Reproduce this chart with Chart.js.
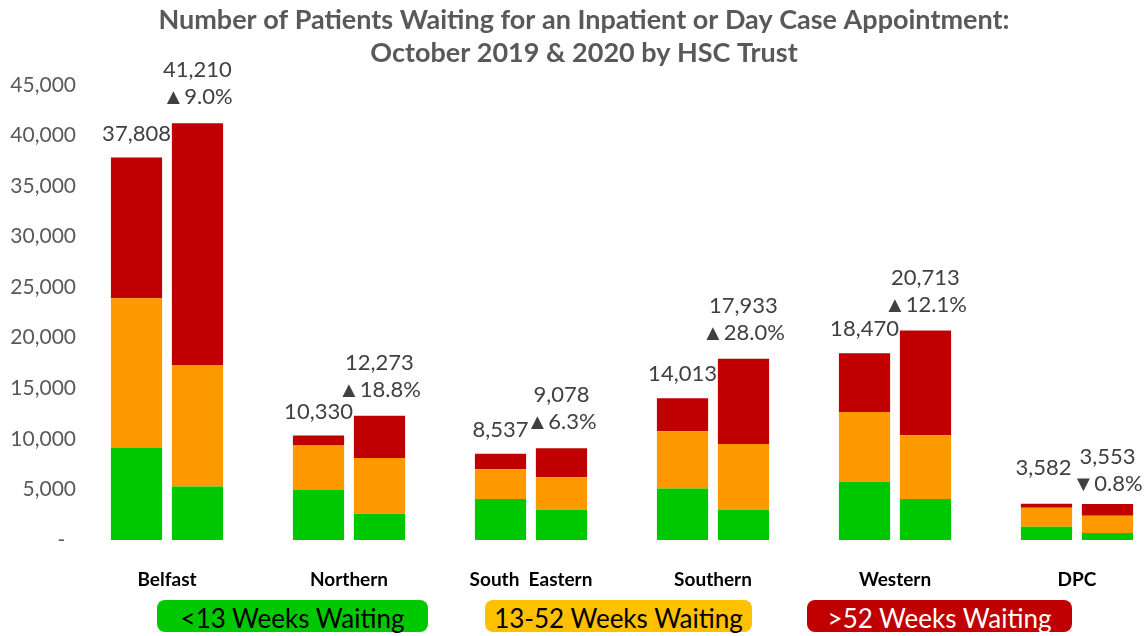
<!DOCTYPE html>
<html>
<head>
<meta charset="utf-8">
<script src="https://cdn.jsdelivr.net/npm/chart.js@4/dist/chart.umd.min.js"></script>
<style>
  html, body { margin: 0; padding: 0; background: #fff; overflow: hidden; }
  #wrap { position: relative; width: 1168px; height: 636px; }
  #chart { position: absolute; left: 0; top: 0; }
  .key { position: absolute; top: 600px; height: 32px; border-radius: 8px; font-family: Lato; font-size: 26px; line-height: 36px; text-align: center; white-space: nowrap; }
  .key0 { left: 157px; width: 271px; }
  .key1 { left: 485px; width: 267px; }
  .key2 { left: 807px; width: 265px; }
</style>
</head>
<body>
<div id="wrap">
  <canvas id="chart" width="1168" height="595"></canvas>
  <div id="legend"></div>
</div>
<script>
const trusts = ["Belfast", "Northern", "South  Eastern", "Southern", "Western", "DPC"];

// October 2019
const under13_2019 = [9100, 4950, 4050, 5100, 5750, 1300];
const weeks13to52_2019 = [14800, 4400, 2950, 5650, 6900, 1900];
const over52_2019 = [13908, 980, 1537, 3263, 5820, 382];

// October 2020
const under13_2020 = [5300, 2600, 3000, 3000, 4050, 700];
const weeks13to52_2020 = [12000, 5500, 3200, 6500, 6300, 1700];
const over52_2020 = [23910, 4173, 2878, 8433, 10363, 1153];

const bandNames = ["<13 Weeks Waiting", "13-52 Weeks Waiting", ">52 Weeks Waiting"];
const barColors = ["#00C800", "#FF9900", "#C00000"];
const keyColors = ["#00C800", "#FFC000", "#C00000"];
const keyText = ["#000000", "#000000", "#FFFFFF"];

const yTicks = [0, 5000, 10000, 15000, 20000, 25000, 30000, 35000, 40000, 45000];

const sum = (...arrs) => arrs[0].map((_, i) => arrs.reduce((s, a) => s + a[i], 0));
const total2019 = sum(under13_2019, weeks13to52_2019, over52_2019);
const total2020 = sum(under13_2020, weeks13to52_2020, over52_2020);
const fmt = (v) => v.toLocaleString("en-US");

function band(label, data, color, stack) {
  return {
    label,
    data,
    backgroundColor: color,
    borderWidth: 0,
    stack,
    categoryPercentage: 0.67,
    barPercentage: 0.84,
  };
}

// DPC labels sit a bit higher in the original because they crowd each other
const labelLift = (i) => (trusts[i] === "DPC" ? 12 : 0);

const totalsLabels = {
  id: "totalsLabels",
  afterDatasetsDraw(chart) {
    const ctx = chart.ctx;
    const top2019 = chart.getDatasetMeta(2).data;
    const top2020 = chart.getDatasetMeta(5).data;
    ctx.save();
    ctx.font = "22px Lato";
    ctx.fillStyle = "#404040";
    ctx.textAlign = "center";
    ctx.textBaseline = "middle";
    trusts.forEach((t, i) => {
      const a = top2019[i];
      const b = top2020[i];
      const lift = labelLift(i);
      ctx.fillText(fmt(total2019[i]), a.x - lift / 4, a.y - 24 - lift);
      ctx.fillText(fmt(total2020[i]), b.x, b.y - 53 + lift / 2);
      const pct = ((total2020[i] - total2019[i]) / total2019[i]) * 100;
      const arrow = pct >= 0 ? "\u25B2" : "\u25BC";
      ctx.fillText(arrow + Math.abs(pct).toFixed(1) + "%", b.x, b.y - 26 + lift / 2);
    });
    ctx.restore();
  },
};

const chart = new Chart(document.getElementById("chart"), {
  type: "bar",
  data: {
    labels: trusts,
    datasets: [
      band(bandNames[0], under13_2019, barColors[0], "2019"),
      band(bandNames[1], weeks13to52_2019, barColors[1], "2019"),
      band(bandNames[2], over52_2019, barColors[2], "2019"),
      band(bandNames[0], under13_2020, barColors[0], "2020"),
      band(bandNames[1], weeks13to52_2020, barColors[1], "2020"),
      band(bandNames[2], over52_2020, barColors[2], "2020"),
    ],
  },
  options: {
    responsive: false,
    animation: false,
    layout: { padding: 0 },
    plugins: {
      legend: { display: false },
      tooltip: { enabled: false },
      title: {
        display: true,
        text: [
          "Number of Patients Waiting for an Inpatient or Day Case Appointment:",
          "October 2019 & 2020 by HSC Trust",
        ],
        color: "#595959",
        font: { family: "Lato", size: 27, weight: "bold", lineHeight: 1.22 },
        padding: { top: 4, bottom: 15 },
      },
    },
    scales: {
      x: {
        stacked: true,
        offset: true,
        grid: { display: false, drawTicks: false },
        border: { display: false },
        ticks: {
          color: "#000000",
          font: { family: "Lato", size: 19, weight: "bold" },
          padding: 28,
          maxRotation: 0,
          autoSkip: false,
        },
        afterFit(scale) {
          scale.height = 55;
        },
      },
      y: {
        stacked: true,
        min: yTicks[0],
        max: yTicks[yTicks.length - 1],
        afterBuildTicks(scale) {
          scale.ticks = yTicks.map((v) => ({ value: v }));
        },
        grid: { display: false, drawTicks: false },
        border: { display: false },
        ticks: {
          color: "#595959",
          font: { family: "Lato", size: 21 },
          padding: 0,
          callback: (v) => (v === 0 ? "-  " : fmt(v)),
        },
        afterFit(scale) {
          scale.width = 76;
        },
      },
    },
  },
  plugins: [totalsLabels],
});

const legend = document.getElementById("legend");
bandNames.forEach((name, i) => {
  const key = document.createElement("div");
  key.className = "key key" + i;
  key.style.background = keyColors[i];
  key.style.color = keyText[i];
  key.textContent = name;
  legend.appendChild(key);
});
</script>
</body>
</html>
